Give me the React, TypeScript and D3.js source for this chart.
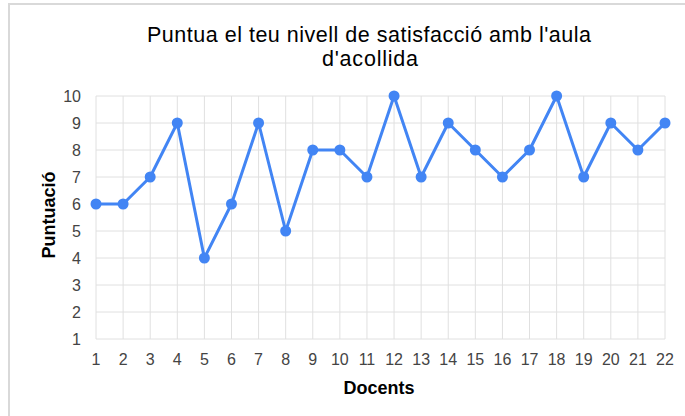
import React from "react";
import * as d3 from "d3";

const categories = ["1","2","3","4","5","6","7","8","9","10","11","12","13","14","15","16","17","18","19","20","21","22"];
const values = [6,6,7,9,4,6,9,5,8,8,7,10,7,9,8,7,8,10,7,9,8,9];
const yTicks = [1,2,3,4,5,6,7,8,9,10];
const titleLines = ["Puntua el teu nivell de satisfacció amb l'aula", "d'acollida"];
const xTitle = "Docents";
const yTitle = "Puntuació";

export default function App() {
  const W = 685, H = 416;
  const x = d3.scalePoint<string>().domain(categories).range([96, 665]);
  const y = d3.scaleLinear().domain([1, 10]).range([339, 96]);
  const line = d3.line<number>().x((_, i) => x(categories[i])!).y(d => y(d));
  const font = "Arial, 'Liberation Sans', sans-serif";
  return (
    <svg width={W} height={H} style={{ position: "absolute", left: 0, top: 0 }} fontFamily={font}>
      <rect x={0} y={0} width={W} height={H} fill="#fff" />
      <path d={`M9,${H} V4 H${W}`} fill="none" stroke="#d9d9d9" strokeWidth={2} />
      <text x={147} y={42} fontSize={21.5} fill="#000" textLength={444} lengthAdjust="spacing">{titleLines[0]}</text>
      <text x={370} y={66} textAnchor="middle" fontSize={21.5} fill="#000" textLength={96} lengthAdjust="spacing">{titleLines[1]}</text>
      {yTicks.map(t => (
        <line key={"h" + t} x1={96} x2={665} y1={y(t)} y2={y(t)} stroke="#e0e0e0" strokeWidth={1} />
      ))}
      {categories.map(c => (
        <line key={"v" + c} x1={x(c)} x2={x(c)} y1={y(10)} y2={y(1)} stroke="#e0e0e0" strokeWidth={1} />
      ))}
      {yTicks.map(t => (
        <text key={"yt" + t} x={81} y={y(t) + 5.5} textAnchor="end" fontSize={16} fill="#444">{t}</text>
      ))}
      {categories.map(c => (
        <text key={"xt" + c} x={x(c)} y={365} textAnchor="middle" fontSize={16} fill="#444">{c}</text>
      ))}
      <text x={379} y={394} textAnchor="middle" fontSize={18} fontWeight="bold" fill="#000">{xTitle}</text>
      <text transform={`translate(55,215) rotate(-90)`} textAnchor="middle" fontSize={18} fontWeight="bold" fill="#000">{yTitle}</text>
      <path d={line(values)!} fill="none" stroke="#4285f4" strokeWidth={3} strokeLinejoin="round" />
      {values.map((v, i) => (
        <circle key={i} cx={x(categories[i])} cy={y(v)} r={5.5} fill="#4285f4" />
      ))}
    </svg>
  );
}
